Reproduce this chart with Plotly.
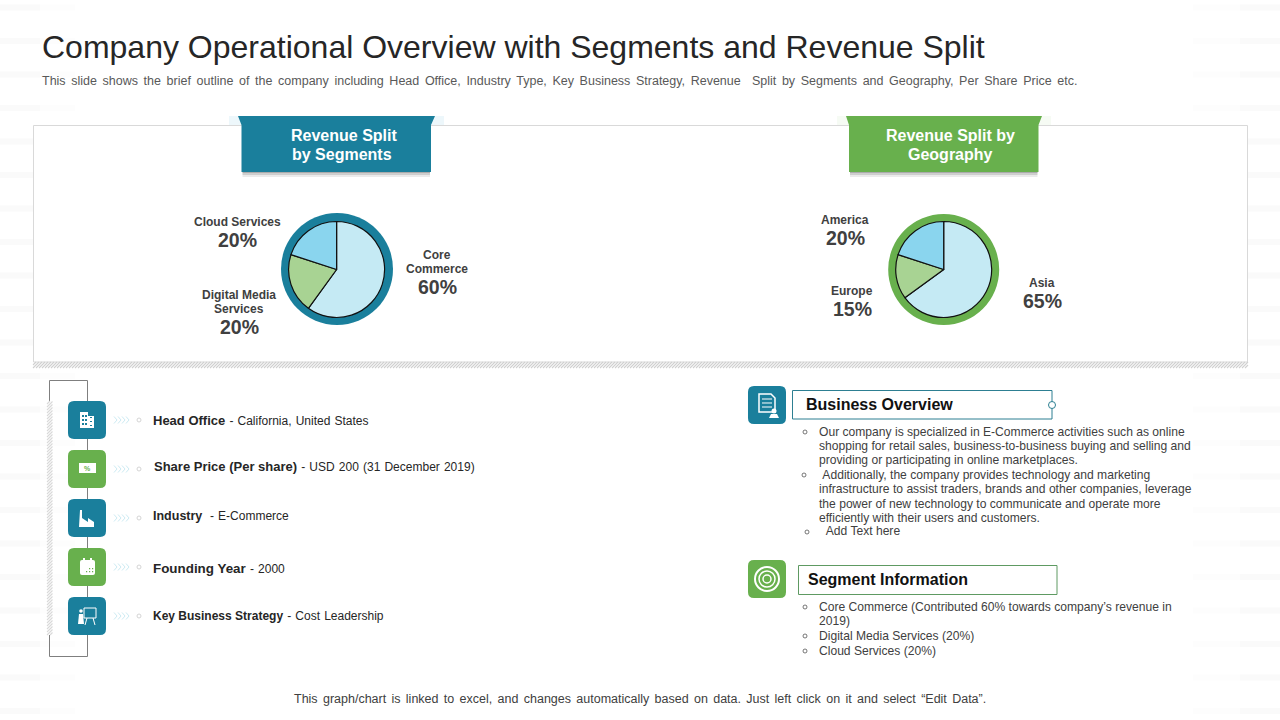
import plotly.graph_objects as go

# chart data
segment_names = ['Core Commerce', 'Digital Media Services', 'Cloud Services']
segment_values = [60, 20, 20]
geo_names = ['Asia', 'Europe', 'America']
geo_values = [65, 15, 20]
slice_colors = ['#C5EAF4', '#A8D393', '#8AD5EE']

# slide text
title = 'Company Operational Overview with Segments and Revenue Split'
subtitle = ('This slide shows the brief outline of the company including Head Office, Industry Type, '
            'Key Business Strategy, Revenue  Split by Segments and Geography, Per Share Price etc.')
footer = 'This graph/chart is linked to excel, and changes automatically based on data. Just left click on it and select \u201cEdit Data\u201d.'
fact_heads = ['Head Office', 'Share Price (Per share)', 'Industry ', 'Founding Year', 'Key Business Strategy']
fact_values = ['California, United States', 'USD 200 (31 December 2019)', 'E-Commerce', '2000', 'Cost Leadership']
overview_lines = [
    'Our company is specialized in E-Commerce activities such as online',
    'shopping for retail sales, business-to-business buying and selling and',
    'providing or participating in online marketplaces.',
    ' Additionally, the company provides technology and marketing',
    'infrastructure to assist traders, brands and other companies, leverage',
    'the power of new technology to communicate and operate more',
    'efficiently with their users and customers.',
    '  Add Text here',
]
segment_lines = [
    'Core Commerce (Contributed 60% towards company\u2019s revenue in',
    '2019)',
    'Digital Media Services (20%)',
    'Cloud Services (20%)',
]

TEAL = '#1A7F9C'
GREEN = '#68B04D'
DARK = '#404040'
W, H = 1280, 720
FONT = 'Liberation Sans'

shapes = []
notes = []


def px(x):
    return x / W


def py(y):
    return 1 - y / H


def rect(x0, y0, x1, y1, fill=None, line=None, lw=1, layer='below', opacity=1):
    shapes.append(dict(type='rect', xref='paper', yref='paper', x0=px(x0), x1=px(x1), y0=py(y0), y1=py(y1),
                       fillcolor=fill or 'rgba(0,0,0,0)', line=dict(color=line or 'rgba(0,0,0,0)', width=lw if line else 0),
                       layer=layer, opacity=opacity))


def circle(cx, cy, r, fill=None, line=None, lw=1, layer='below'):
    shapes.append(dict(type='circle', xref='paper', yref='paper', x0=px(cx - r), x1=px(cx + r), y0=py(cy + r), y1=py(cy - r),
                       fillcolor=fill or 'rgba(0,0,0,0)', line=dict(color=line or 'rgba(0,0,0,0)', width=lw if line else 0),
                       layer=layer))


def path(points, fill=None, line=None, lw=1, close=True, layer='below'):
    d = 'M' + ' L'.join(f'{px(x):.5f},{py(y):.5f}' for x, y in points) + (' Z' if close else '')
    shapes.append(dict(type='path', xref='paper', yref='paper', path=d, fillcolor=fill or 'rgba(0,0,0,0)',
                       line=dict(color=line or 'rgba(0,0,0,0)', width=lw if line else 0), layer=layer))


def round_box(x0, y0, x1, y1, r, fill):
    w, h = px(r), r / H
    d = (f'M{px(x0)+w:.5f},{py(y0):.5f} L{px(x1)-w:.5f},{py(y0):.5f} Q{px(x1):.5f},{py(y0):.5f} {px(x1):.5f},{py(y0)-h:.5f} '
         f'L{px(x1):.5f},{py(y1)+h:.5f} Q{px(x1):.5f},{py(y1):.5f} {px(x1)-w:.5f},{py(y1):.5f} '
         f'L{px(x0)+w:.5f},{py(y1):.5f} Q{px(x0):.5f},{py(y1):.5f} {px(x0):.5f},{py(y1)+h:.5f} '
         f'L{px(x0):.5f},{py(y0)-h:.5f} Q{px(x0):.5f},{py(y0):.5f} {px(x0)+w:.5f},{py(y0):.5f} Z')
    shapes.append(dict(type='path', xref='paper', yref='paper', path=d, fillcolor=fill, line=dict(width=0), layer='below'))


def text(x, y, s, size=12, color=DARK, anchor='left', bold=False):
    # annotations keep a 1px border box, so left aligned text starts 1px late
    if anchor == 'left':
        x -= 1
    notes.append(dict(x=px(x), y=py(y), xref='paper', yref='paper', text=f'<b>{s}</b>' if bold else s, showarrow=False,
                      xanchor=anchor, yanchor='middle', align=anchor, borderpad=0,
                      font=dict(family=FONT, size=size, color=color)))


def hatch(x0, y0, x1, y1, color='#D0D0D0'):
    # diagonal hatching clipped to the box
    d = []
    h = y1 - y0
    t = x0 - h
    while t < x1:
        ax, ay = (t, y1) if t >= x0 else (x0, y1 - (x0 - t))
        bx, by = (t + h, y0) if t + h <= x1 else (x1, y1 - (x1 - t))
        d.append(f'M{px(ax):.5f},{py(ay):.5f} L{px(bx):.5f},{py(by):.5f}')
        t += 3
    shapes.append(dict(type='path', xref='paper', yref='paper', path=' '.join(d), line=dict(color=color, width=1.1), layer='below'))


# faint background bands
y = 4.5
while y < 720:
    rect(0, y, 75, y + 6, fill='#FDFDFD')
    rect(0, y, 40, y + 6, fill='#FAFAFA')
    rect(1193, y, 1280, y + 6, fill='#FDFDFD')
    rect(1240, y, 1280, y + 6, fill='#FAFAFA')
    y += 33.5

# upper panel
rect(33.5, 125.5, 1247.5, 362, fill='white', line='#D9D9D9')
hatch(33, 362, 1248, 368)


def banner(x0, x1, flap0, flap1, color, halo):
    rect(flap0 - 9, 116, flap1 + 9, 125, fill=halo)
    for i, a in enumerate([0.12, 0.2, 0.3]):
        rect(x0 + 1, 172, x1 - 1, 177 - i * 2, fill=f'rgba(90,90,90,{a})')
    path([(flap0, 116), (flap1, 116), (x1, 125), (x1, 172), (x0, 172), (x0, 125)], fill=color)


banner(241.5, 431, 238, 435, TEAL, '#EDF7FB')
banner(849, 1038.5, 846, 1042, GREEN, '#F6FBF4')
text(343.5, 135, 'Revenue Split', 16, 'white', 'center', True)
text(342, 154, 'by Segments', 16, 'white', 'center', True)
text(950, 135, 'Revenue Split by', 16, 'white', 'center', True)
text(950, 154, 'Geography', 16, 'white', 'center', True)

# pie rings
circle(337, 269, 56, fill=TEAL)
circle(943.7, 269.5, 55.5, fill=GREEN)


def pie_domain(cx, cy, r):
    return dict(x=[px(cx - r), px(cx + r)], y=[py(cy + r), py(cy - r)])


fig = go.Figure()
for names, values, domain in [(segment_names, segment_values, pie_domain(336.6, 269.5, 48)),
                              (geo_names, geo_values, pie_domain(943.7, 269.5, 48))]:
    fig.add_trace(go.Pie(labels=names, values=values, domain=domain, sort=False, direction='clockwise', rotation=0,
                         textinfo='none', hoverinfo='label+percent', showlegend=False,
                         marker=dict(colors=slice_colors, line=dict(color='#111111', width=1.2))))

# pie labels
text(437, 255, 'Core', 12, DARK, 'center', True)
text(437, 269, 'Commerce', 12, DARK, 'center', True)
text(437, 287, f'{segment_values[0]}%', 19.5, DARK, 'center', True)
text(239, 295, 'Digital Media', 12, DARK, 'center', True)
text(239, 309, 'Services', 12, DARK, 'center', True)
text(239, 327, f'{segment_values[1]}%', 19.5, DARK, 'center', True)
text(237, 222, 'Cloud Services', 12, DARK, 'center', True)
text(237, 240, f'{segment_values[2]}%', 19.5, DARK, 'center', True)
text(1042, 283, geo_names[0], 12, DARK, 'center', True)
text(1042, 301, f'{geo_values[0]}%', 19.5, DARK, 'center', True)
text(852, 291, geo_names[1], 12, DARK, 'center', True)
text(852, 309, f'{geo_values[1]}%', 19.5, DARK, 'center', True)
text(845, 220, geo_names[2], 12, DARK, 'center', True)
text(845, 238, f'{geo_values[2]}%', 19.5, DARK, 'center', True)

# title block
text(42, 47, title, 32, '#262626')
text(42, 81, f'<span style="word-spacing:2.15px">{subtitle}</span>', 12.5, '#595959')
text(640, 699, f'<span style="word-spacing:1.85px">{footer}</span>', 12.5, DARK, 'center')

# left timeline
rect(49.5, 380.5, 87.5, 656.5, line='#7F7F7F', lw=1)
rect(47, 401, 53, 635, fill='white')
hatch(47, 401, 52.5, 635, '#D9D9D9')

rows_y = [420, 466, 516, 568, 616]
box_tops = [401, 450, 499, 548, 597]
box_colors = [TEAL, GREEN, TEAL, GREEN, TEAL]
text_x = [153, 154, 153, 153, 153]
head_sizes = [13, 13, 12.5, 13.4, 12]
for top, color in zip(box_tops, box_colors):
    round_box(68, top, 106, top + 38, 6, color)
for y, top, head, val, x, hs in zip(rows_y, box_tops, fact_heads, fact_values, text_x, head_sizes):
    cy = top + 19
    for k in range(4):
        cx = 114 + k * 4
        path([(cx, cy - 3.5), (cx + 3, cy), (cx, cy + 3.5)], line='#CDEBF3', lw=1, close=False)
    circle(139, cy, 2, line='#D5D5D5', lw=1)
    text(x, y, f'<b><span style="font-size:{hs}px">{head}</span></b><span style="word-spacing:0.8px"> - {val}</span>', 12, '#262626')

# simple white glyphs in the icon boxes
# building
rect(80, 412, 88, 428, fill='white')
rect(88, 416, 94, 428, fill='white')
for wy in [415, 419, 423]:
    rect(82, wy, 84, wy + 2, fill=TEAL)
    rect(85, wy, 87, wy + 2, fill=TEAL)
    rect(90, wy + 2, 92, wy + 3, fill=TEAL)
# cash
rect(79, 463, 96, 473, fill='white')
text(87.5, 468, '%', 7, GREEN, 'center', True)
# factory
path([(80, 510), (82, 510), (82, 518), (88, 522), (88, 518), (94, 522), (94, 527), (79, 527)], fill='white')
# calendar
round_box(80, 560, 95, 575, 2, 'white')
rect(83, 558, 85, 562, fill='white')
rect(90, 558, 92, 562, fill='white')
for dot_x, dot_y in [(86, 571), (89, 571), (92, 571), (89, 568), (92, 568)]:
    rect(dot_x, dot_y, dot_x + 1.2, dot_y + 1.2, fill=GREEN)
# presenter
circle(81, 611, 1.8, fill='white')
path([(79, 614), (83, 614), (84, 624), (78, 624)], fill='white')
rect(84, 608, 96, 618, line='white', lw=1)
path([(87, 618), (85, 625)], line='white', close=False)
path([(93, 618), (95, 625)], line='white', close=False)

# right side boxes
round_box(748, 386, 786, 424, 6, TEAL)
round_box(748, 560, 786, 598, 6, GREEN)
path([(759, 394), (771, 394), (775, 398), (775, 412), (759, 412)], line='white', lw=1.5)
for ly in [399, 403, 407]:
    path([(762, ly), (772, ly)], line='white', lw=1, close=False)
circle(774, 411, 2.5, fill='white')
path([(769, 418), (771, 414), (777, 414), (779, 418)], fill='white')
for r, lw in [(12, 2), (8, 1.5), (4, 1.5)]:
    circle(767, 579, r, line='white', lw=lw)

rect(792.5, 390.5, 1052, 419, fill='white', line='#2D7F92')
circle(1052, 405, 3.5, fill='white', line='#2D7F92')
rect(798.5, 565.5, 1057, 594.5, fill='white', line='#5E9A62')
text(806, 404.5, 'Business Overview', 16, '#111111', bold=True)
text(808, 579.5, 'Segment Information', 16, '#111111', bold=True)

overview_y = [432, 446, 460, 475, 489, 504, 518, 531]
for y, line in zip(overview_y, overview_lines):
    text(819, y, line.replace(' ', '&nbsp;', 2) if line.startswith(' ') else line, 12.1, DARK)
for x, y in [(805, 432), (804, 475), (807, 532)]:
    circle(x, y, 2, line='#555555', lw=0.8)

segment_y = [607, 621, 636, 651]
for y, line in zip(segment_y, segment_lines):
    text(819, y, line, 12.1, DARK)
for y in [607, 636, 651]:
    circle(805, y, 2, line='#555555', lw=0.8)

fig.update_layout(width=W, height=H, margin=dict(l=0, r=0, t=0, b=0), paper_bgcolor='white',
                  shapes=shapes, annotations=notes, showlegend=False)
# the page body has an 8px margin by default
fig.write_html('out.html', config=dict(displayModeBar=False),
               post_script="document.body.style.margin='0';document.body.style.overflow='hidden';")
